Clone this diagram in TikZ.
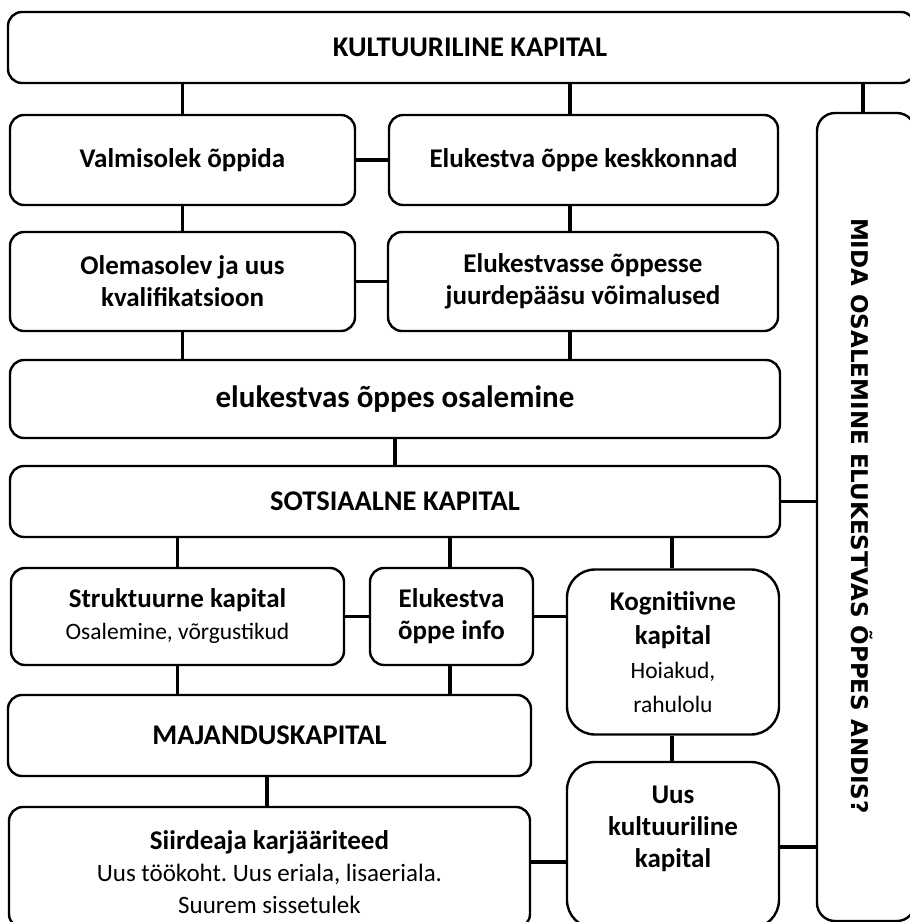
\documentclass[tikz,border=0pt]{standalone}
\usepackage{fontspec}
\setmainfont{Carlito}
\newfontfamily\sidefont{DejaVu Sans}
\frenchspacing
\tikzset{
  box/.style={draw=black, line width=2.4pt, rounded corners=14pt, align=center, inner sep=0pt},
  roundbox/.style={box, rounded corners=28pt},
  txt/.style={align=center, inner sep=0pt, font=\fontsize{23.5}{32}\selectfont},
  bold/.style={txt, font=\fontsize{27}{32}\selectfont\bfseries},
  caps/.style={txt, font=\fontsize{28.5}{32}\selectfont\bfseries},
  big/.style={txt, font=\fontsize{31}{36}\selectfont\bfseries},
  conn/.style={line width=3.4pt}
}
\begin{document}
\begin{tikzpicture}[x=1pt,y=-1pt]
\useasboundingbox (0,0) rectangle (910,922);
\fill[white] (0,0) rectangle (910,922);
\clip (0,0) rectangle (910,922);

% boxes
\node[box, minimum width=907pt, minimum height=71pt] (kult) at (461.5,47.5) {};
\node[caps] (kulttxt) at (470,47) {KULTUURILINE KAPITAL};

\node[box, bold, draw, minimum width=345pt, minimum height=90pt] (valm) at (182.5,160) {Valmisolek õppida};
\node[box, bold, draw, minimum width=389pt, minimum height=90pt] (kesk) at (583.5,160) {Elukestva õppe keskkonnad};

\node[box, bold, draw, minimum width=345pt, minimum height=99pt] (olem) at (182.5,281.5) {Olemasolev ja uus\\kvalifikatsioon};
\node[box, bold, draw, minimum width=390pt, minimum height=99pt] (juurde) at (583,281.5) {Elukestvasse õppesse\\juurdepääsu võimalused};

\node[box, big, draw, minimum width=770pt, minimum height=78pt] (osal) at (395,399) {elukestvas õppes osalemine};
\node[box, caps, draw, minimum width=770pt, minimum height=71pt] (sots) at (395,501.5) {SOTSIAALNE KAPITAL};

\node[box, txt, draw, minimum width=333pt, minimum height=97pt] (strukt) at (177.5,616.5) {{\fontsize{27}{32}\selectfont\bfseries Struktuurne kapital}\\Osalemine, võrgustikud};
\node[box, bold, draw, minimum width=163pt, minimum height=97pt] (info) at (451.5,616.5) {Elukestva\\õppe info};
\node[roundbox, txt, draw, minimum width=212pt, minimum height=165pt, font=\fontsize{23.5}{34}\selectfont] (kogn) at (673,652) {{\fontsize{27}{34}\selectfont\bfseries Kognitiivne}\\{\fontsize{27}{34}\selectfont\bfseries kapital}\\Hoiakud,\\rahulolu};

\node[box, caps, draw, minimum width=523pt, minimum height=81pt] (majand) at (269.5,735.5) {MAJANDUSKAPITAL};

\node[box, minimum width=521pt, minimum height=121pt] (siird) at (269.5,867.5) {};
\node[txt, font=\fontsize{25}{32}\selectfont] (siirdtxt) at (269.5,872) {{\fontsize{27}{32}\selectfont\bfseries Siirdeaja karjääriteed}\\Uus töökoht. Uus eriala, lisaeriala.\\Suurem sissetulek};

\node[roundbox, minimum width=212pt, minimum height=166pt] (uus) at (673,845) {};
\node[bold] (uustxt) at (673,829) {Uus\\kultuuriline\\kapital};

\node[box, rounded corners=18pt, minimum width=98pt, minimum height=808pt] (mida) at (866,517) {};
\node[rotate=-90, inner sep=0pt, font=\sidefont\fontsize{23}{27}\selectfont\bfseries] (midatxt) at (862,516) {MIDA OSALEMINE ELUKESTVAS ÕPPES ANDIS?};

% connectors
\draw[conn] (valm.north) -- (valm.north |- kult.south);
\draw[conn] ([xshift=-13.5pt]kesk.north) -- ([xshift=-13.5pt]kesk.north |- kult.south);
\draw[conn] ([xshift=-3pt]mida.north) -- ([xshift=-3pt]mida.north |- kult.south);
\draw[conn] (valm.east) -- (kesk.west);
\draw[conn] (valm.south) -- (olem.north);
\draw[conn] ([xshift=-13.5pt]kesk.south) -- ([xshift=-13.5pt]kesk.south |- juurde.north);
\draw[conn] (olem.east) -- (juurde.west);
\draw[conn] (olem.south) -- (olem.south |- osal.north);
\draw[conn] ([xshift=-13pt]juurde.south) -- ([xshift=-13pt]juurde.south |- osal.north);
\draw[conn] (osal.south) -- (sots.north);
\draw[conn] (sots.east) -- (sots.east -| mida.west);
\draw[conn] (strukt.north) -- (strukt.north |- sots.south);
\draw[conn] ([xshift=-1.5pt]info.north) -- ([xshift=-1.5pt]info.north |- sots.south);
\draw[conn] ([xshift=-1pt]kogn.north) -- ([xshift=-1pt]kogn.north |- sots.south);
\draw[conn] (strukt.east) -- (info.west);
\draw[conn] (info.east) -- (info.east -| kogn.west);
\draw[conn] (strukt.south) -- (strukt.south |- majand.north);
\draw[conn] ([xshift=-1.5pt]info.south) -- ([xshift=-1.5pt]info.south |- majand.north);
\draw[conn] ([xshift=-1pt]kogn.south) -- ([xshift=-1pt]kogn.south |- uus.north);
\draw[conn] ([xshift=-2.5pt]majand.south) -- ([xshift=-2.5pt]majand.south |- siird.north);
\draw[conn] ([yshift=5.5pt]siird.east) -- ([yshift=5.5pt]siird.east -| uus.west);
\draw[conn] ([yshift=-2pt]uus.east) -- ([yshift=-2pt]uus.east -| mida.west);
\end{tikzpicture}
\end{document}
